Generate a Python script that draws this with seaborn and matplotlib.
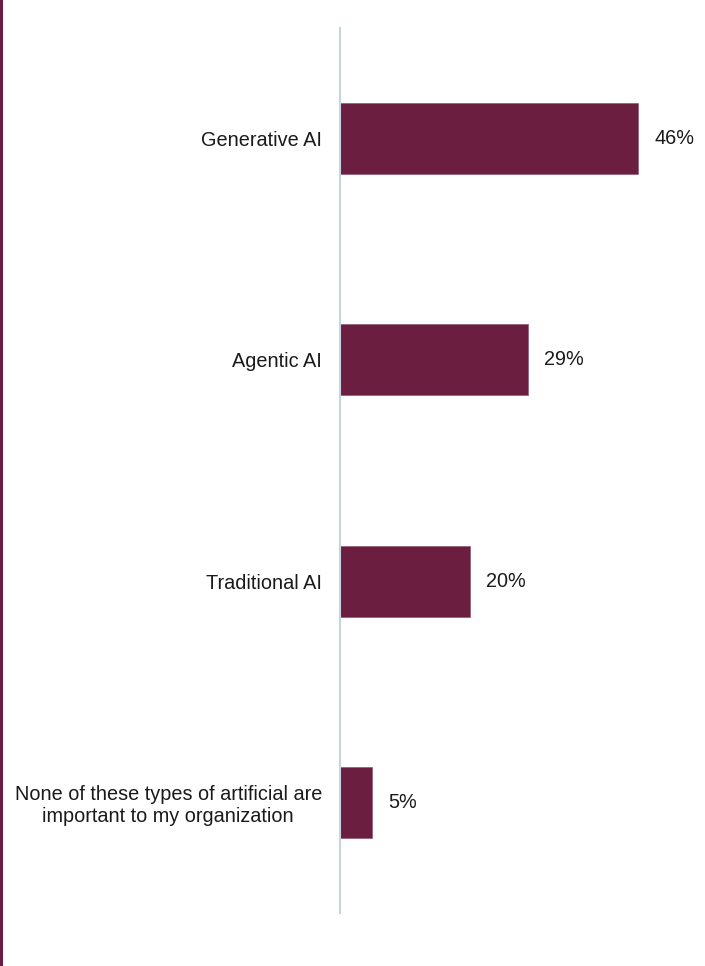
import seaborn as sns
import matplotlib.pyplot as plt
import matplotlib.patches as patches
import pandas as pd

categories = ['Generative AI', 'Agentic AI', 'Traditional AI',
              'None of these types of artificial are\nimportant to my organization']
values = [46, 29, 20, 5]
value_labels = ['46%', '29%', '20%', '5%']

df = pd.DataFrame({'category': categories, 'value': values})

sns.set_style('white')
plt.rcParams['font.family'] = ['Liberation Sans', 'DejaVu Sans']

fig = plt.figure(figsize=(7.05, 9.66), dpi=100)
ax = fig.add_axes([340/705, 1-913/966, 1-340/705, 885/966])

sns.barplot(data=df, x='value', y='category', color='#6B1E3F', width=0.32,
            edgecolor='#8E5A72', linewidth=0.5, saturation=1, ax=ax)

ax.set_xlim(0, 365/6.48)
ax.set_ylim(3.5, -0.5)
ax.set_xlabel('')
ax.set_ylabel('')
ax.set_xticks([])
for s in ['top', 'right', 'bottom']:
    ax.spines[s].set_visible(False)
ax.spines['left'].set_color('#C5D3E2')
ax.spines['left'].set_linewidth(1.5)
ax.tick_params(axis='y', length=0, pad=13, labelsize=14.3, labelcolor='#1a1a1a')
for lab in ax.get_yticklabels():
    lab.set_horizontalalignment('right')
    lab.set_multialignment('center')
    lab.set_linespacing(1.15)

# value labels right of each bar
for i, (v, t) in enumerate(zip(values, value_labels)):
    ax.annotate(t, xy=(v, i), xytext=(16, 0), textcoords='offset pixels',
                va='center', ha='left', fontsize=14.3, color='#1a1a1a')

# maroon strip on the left edge
fig.add_artist(patches.Rectangle((0, 0), 2.5/705, 1, transform=fig.transFigure,
                                 color='#6B1E3F', lw=0))

fig.savefig('out.png', dpi=100)
plt.close()
